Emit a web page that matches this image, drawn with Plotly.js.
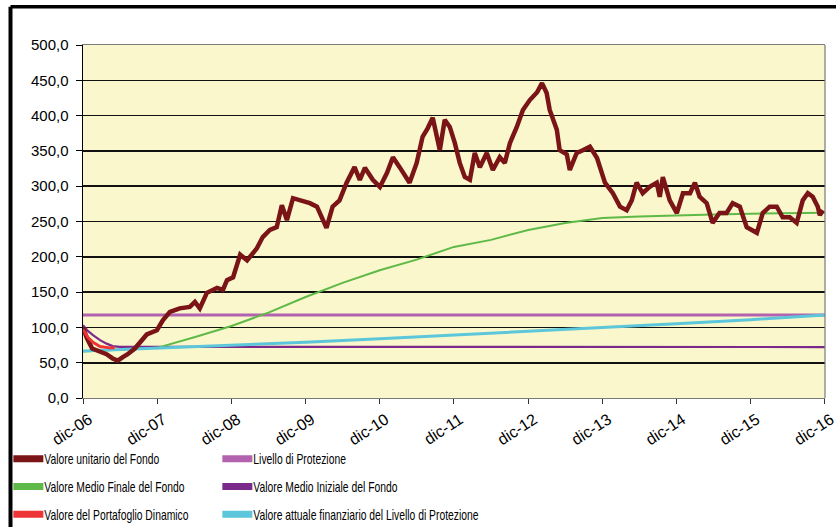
<!DOCTYPE html>
<html>
<head>
<meta charset="utf-8">
<script src="https://cdn.plot.ly/plotly-3.0.1.min.js"></script>
<style>
html,body{margin:0;padding:0;background:#fff;}
#chart{width:836px;height:527px;}
/* horizontally condensed legend labels, as in the reference */
#chart text.legendtext, #chart text.legend2text{transform-box:fill-box;transform-origin:0 50%;transform:translateX(-4px) scaleX(0.74);}
</style>
</head>
<body>
<div id="chart"></div>
<script>
// ---- Data ----
const fondoDates = ['2006-12-01','2006-12-20','2007-01-15','2007-02-23','2007-03-27','2007-04-26','2007-05-21','2007-06-15','2007-07-09','2007-08-13','2007-09-07','2007-10-11','2007-11-30','2007-12-29','2008-02-02','2008-03-21','2008-05-10','2008-06-04','2008-06-28','2008-08-02','2008-09-21','2008-10-20','2008-11-09','2008-12-09','2009-01-13','2009-02-16','2009-04-05','2009-05-04','2009-06-08','2009-07-12','2009-08-06','2009-08-31','2009-09-30','2009-11-04','2009-12-22','2010-01-26','2010-02-25','2010-03-14','2010-04-13','2010-05-17','2010-06-21','2010-07-30','2010-08-25','2010-09-19','2010-10-28','2010-12-02','2011-01-06','2011-02-04','2011-03-09','2011-04-27','2011-06-01','2011-06-30','2011-07-25','2011-08-19','2011-09-23','2011-10-17','2011-11-11','2011-12-06','2011-12-30','2012-01-24','2012-02-18','2012-03-13','2012-04-07','2012-05-11','2012-06-10','2012-07-14','2012-08-08','2012-09-02','2012-10-06','2012-11-05','2012-12-09','2013-01-14','2013-02-07','2013-03-02','2013-03-17','2013-04-21','2013-05-05','2013-06-09','2013-06-24','2013-07-28','2013-08-27','2013-10-01','2013-11-05','2013-11-19','2013-12-14','2014-01-22','2014-02-26','2014-03-31','2014-04-25','2014-05-19','2014-06-18','2014-07-22','2014-08-26','2014-09-10','2014-09-25','2014-10-29','2014-12-03','2015-01-02','2015-02-06','2015-03-02','2015-03-25','2015-04-29','2015-05-28','2015-07-01','2015-08-05','2015-09-04','2015-10-09','2015-11-12','2015-12-12','2016-01-01','2016-01-30','2016-03-04','2016-04-08','2016-05-07','2016-06-11','2016-07-15','2016-08-14','2016-09-08','2016-10-02','2016-10-27','2016-11-06','2016-11-21'];
const fondoValues = [100,85,70,66,62,56,53,58,62,70,78,90,96,110,122,127,129,136,127,149,156,153,167,171,203,195,212,228,238,242,273,252,283,280,276,271,252,241,271,280,305,327,309,326,309,299,319,341,327,305,333,370,382,397,351,394,384,361,333,313,309,347,327,347,323,341,333,361,384,408,422,433,446,432,408,380,351,345,323,347,351,356,340,327,305,290,271,266,280,305,290,299,305,285,313,280,262,290,290,305,285,276,248,262,262,276,271,242,238,234,262,271,271,256,256,248,280,290,285,271,259,266];

const yearDates = ['2006-12-01','2007-12-01','2008-12-01','2009-12-01','2010-12-01','2011-12-01','2012-12-01','2013-12-01','2014-12-01','2015-12-01','2016-12-01'];
const tickLabels = ['dic-06','dic-07','dic-08','dic-09','dic-10','dic-11','dic-12','dic-13','dic-14','dic-15','dic-16'];

const protezioneDates = ['2006-12-01','2016-12-01'];
const protezioneValues = [117.5,117.5];

const medioFinaleDates = ['2006-12-01','2007-06-01','2007-12-01','2008-06-01','2008-12-01','2009-06-01','2009-12-01','2010-06-01','2010-12-01','2011-06-01','2011-12-01','2012-06-01','2012-12-01','2013-06-01','2013-12-01','2014-06-01','2014-12-01','2015-06-01','2015-12-01','2016-06-01','2016-12-01'];
const medioFinaleValues = [66,68,71,86,102,121,143,163,181,196,214,224,238,248,255,257,259,260,261,261.5,262.5];

const medioInizialeDates = ['2006-12-01','2006-12-25','2007-01-19','2007-02-23','2007-03-27','2007-04-26','2007-05-31','2016-12-01'];
const medioInizialeValues = [103,95,89,82,77,73.5,72.5,72.2];

const dinamicoDates = ['2006-12-01','2006-12-25','2007-01-19','2007-02-23','2007-04-11','2007-05-06'];
const dinamicoValues = [97,86,79,73,71,71];

const attualeDates = yearDates;
const attualeValues = [66.5,70.5,74.5,79,84,89,94.5,99.5,105,111,117.5];

const names = ['Valore unitario del Fondo','Livello di Protezione','Valore Medio Finale del Fondo','Valore Medio Iniziale del Fondo','Valore del Portafoglio Dinamico','Valore attuale finanziario del Livello di Protezione'];
const colors = {fondo:'#7A1416', prot:'#B262AE', finale:'#5EB948', iniziale:'#7B2A8C', dinamico:'#EE3434', attuale:'#5CC6DA'};

// ---- Traces (drawing order) ----
const traces = [
  {x:protezioneDates, y:protezioneValues, mode:'lines', line:{color:colors.prot, width:3}, showlegend:false, hoverinfo:'skip'},
  {x:medioInizialeDates, y:medioInizialeValues, mode:'lines', line:{color:colors.iniziale, width:2.2}, showlegend:false, hoverinfo:'skip'},
  {x:medioFinaleDates, y:medioFinaleValues, mode:'lines', line:{color:colors.finale, width:2}, showlegend:false, hoverinfo:'skip'},
  {x:attualeDates, y:attualeValues, mode:'lines', line:{color:colors.attuale, width:3}, showlegend:false, hoverinfo:'skip'},
  {x:fondoDates, y:fondoValues, mode:'lines', line:{color:colors.fondo, width:4.5}, showlegend:false, hoverinfo:'skip'},
  {x:dinamicoDates, y:dinamicoValues, mode:'lines', line:{color:colors.dinamico, width:3}, showlegend:false, hoverinfo:'skip'}
];
// legend-only entries (thick swatches)
const leg = (name, color, legend, rank) => ({x:[null], y:[null], mode:'lines', name:name, line:{color:color, width:7}, legend:legend, legendgroup:name, legendrank:rank, hoverinfo:'skip'});
traces.push(
  leg(names[0], colors.fondo, 'legend', 1),
  leg(names[2], colors.finale, 'legend', 2),
  leg(names[4], colors.dinamico, 'legend', 3),
  leg(names[1], colors.prot, 'legend2', 1),
  leg(names[3], colors.iniziale, 'legend2', 2),
  leg(names[5], colors.attuale, 'legend2', 3)
);

const legendFont = {family:'"Liberation Sans",Arial,sans-serif', size:14, color:'#000'};
const legendCommon = {orientation:'v', xref:'container', yref:'container', yanchor:'top', xanchor:'left', font:legendFont, bgcolor:'rgba(0,0,0,0)', borderwidth:0, tracegroupgap:6.5, itemwidth:30, itemclick:false};

const layout = {
  width:836, height:527,
  margin:{l:83, r:11, t:45, b:129, pad:0, autoexpand:false},
  paper_bgcolor:'#ffffff',
  plot_bgcolor:'#F9F7CB',
  separators:',.',
  font:{family:'"Liberation Sans",Arial,sans-serif', size:15, color:'#000'},
  xaxis:{type:'date', range:['2006-12-01','2016-12-01 12:00'], tickmode:'array', tickvals:yearDates, ticktext:tickLabels,
         tickangle:-33, ticks:'outside', ticklen:5, tickcolor:'#333', tickfont:{size:16}, automargin:false, ticklabeloverflow:'allow',
         showgrid:false, zeroline:false, showline:true, linecolor:'#7a7a7a', linewidth:1.2, mirror:true, ticklabelshift:6},
  yaxis:{range:[0,500], dtick:50, tick0:0, tickformat:'.1f', ticks:'outside', ticklen:6, tickcolor:'#000', automargin:false,
         ticklabelstandoff:4, tickfont:{size:15}, gridcolor:'#111', gridwidth:1.6, showline:true, linecolor:'#000', linewidth:1.5, zeroline:false},
  legend:Object.assign({x:0.01, y:0.159}, legendCommon),
  legend2:Object.assign({x:0.26, y:0.159}, legendCommon),
  shapes:[
    {type:'line', xref:'paper', yref:'paper', x0:1, x1:1, y0:0, y1:1, line:{color:'#7a7a7a', width:1.2}},
    {type:'line', xref:'paper', yref:'paper', x0:-0.0977, x1:1.02, y0:1.1085, y1:1.1085, line:{color:'#000', width:3.5}},
    {type:'line', xref:'paper', yref:'paper', x0:-0.0977, x1:-0.0977, y0:1.1085, y1:-0.4, line:{color:'#000', width:4}}
  ],
  showlegend:true
};

Plotly.newPlot('chart', traces, layout, {displayModeBar:false, staticPlot:true});
</script>
</body>
</html>
